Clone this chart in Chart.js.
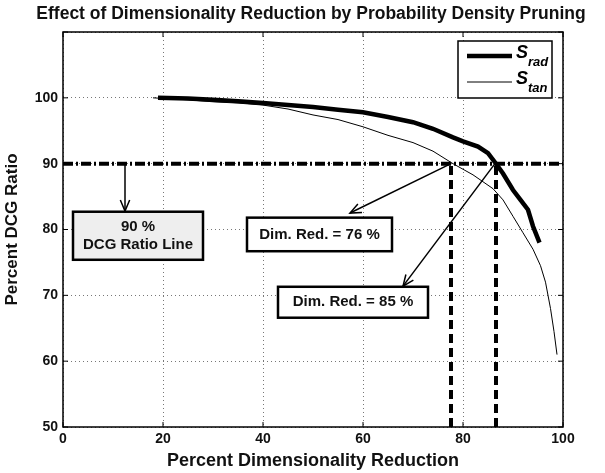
<!DOCTYPE html>
<html>
<head>
<meta charset="utf-8">
<script src="https://cdn.jsdelivr.net/npm/chart.js@4"></script>
<style>
  html, body { margin: 0; padding: 0; background: #fff; }
  #wrap { width: 605px; height: 473px; }
</style>
</head>
<body>
<div id="wrap"><canvas id="chartDCG"></canvas></div>
<script>
const FONT = '"Liberation Sans", Arial, Helvetica, sans-serif';

const radX = [19, 25, 30, 35, 40, 45, 50, 55, 60, 65, 70, 74, 78, 80, 83, 85, 86.5, 88, 90, 91.5, 93, 94, 95.3];
const radY = [100, 99.9, 99.7, 99.5, 99.2, 98.9, 98.6, 98.2, 97.8, 97.1, 96.3, 95.3, 94.0, 93.4, 92.6, 91.6, 90.1, 88.5, 86, 84.5, 83, 80.5, 78];

const tanX = [18, 25, 30, 35, 40, 45, 50, 55, 60, 65, 70, 74, 78, 82, 86, 88, 90, 92, 94, 95.5, 96.5, 97.5, 98.2, 98.8];
const tanY = [100, 99.7, 99.4, 99.2, 98.9, 98.3, 97.4, 96.7, 95.6, 94.3, 93.2, 91.9, 90, 88.3, 86.2, 84.5, 82, 79.5, 77, 74.5, 72, 68, 64.5, 61];

const ratioLine = 90;
const cut76 = 77.6;
const cut85 = 86.6;

const xTicks = [0, 20, 40, 60, 80, 100];
const yTicks = [50, 60, 70, 80, 90, 100, 110];

const toPoints = (xs, ys) => xs.map((x, i) => ({ x, y: ys[i] }));

// text boxes and arrows, placed in data coordinates
const notes = [
  { lines: ['90 %', 'DCG Ratio Line'], box: [2, 82.7, 28, 75.4], fill: '#eeeeee', arrow: [12.4, 90, 12.4, 82.8] },
  { lines: ['Dim. Red. = 76 %'], box: [36.8, 81.8, 65.8, 76.7], fill: '#ffffff', arrow: [cut76, 90, 57.4, 82.5] },
  { lines: ['Dim. Red. = 85 %'], box: [43, 71.3, 73, 66.6], fill: '#ffffff', arrow: [cut85 - 0.2, 90, 68, 71.4] },
];

function drawArrow(ctx, x1, y1, x2, y2) {
  const ang = Math.atan2(y2 - y1, x2 - x1);
  const len = 12;
  ctx.beginPath();
  ctx.moveTo(x1, y1);
  ctx.lineTo(x2, y2);
  ctx.stroke();
  ctx.beginPath();
  ctx.moveTo(x2 - len * Math.cos(ang - 0.4), y2 - len * Math.sin(ang - 0.4));
  ctx.lineTo(x2, y2);
  ctx.lineTo(x2 - len * Math.cos(ang + 0.4), y2 - len * Math.sin(ang + 0.4));
  ctx.stroke();
}

const decorations = {
  id: 'decorations',
  afterDraw(chart) {
    const { ctx, chartArea: a, scales: { x, y } } = chart;
    ctx.save();

    // frame around the plot
    ctx.strokeStyle = '#000';
    ctx.lineWidth = 1.5;
    ctx.strokeRect(a.left, a.top, a.right - a.left, a.bottom - a.top);

    // inner tick marks
    ctx.lineWidth = 1;
    ctx.beginPath();
    xTicks.forEach((t) => {
      const px = x.getPixelForValue(t);
      ctx.moveTo(px, a.bottom); ctx.lineTo(px, a.bottom - 5);
      ctx.moveTo(px, a.top); ctx.lineTo(px, a.top + 5);
    });
    yTicks.forEach((t) => {
      const py = y.getPixelForValue(t);
      ctx.moveTo(a.left, py); ctx.lineTo(a.left + 5, py);
      ctx.moveTo(a.right, py); ctx.lineTo(a.right - 5, py);
    });
    ctx.stroke();

    // title
    ctx.fillStyle = '#111';
    ctx.font = `bold 17.5px ${FONT}`;
    ctx.textAlign = 'center';
    ctx.textBaseline = 'middle';
    ctx.fillText('Effect of Dimensionality Reduction by Probability Density Pruning', 311, 14);

    // annotations
    notes.forEach((n) => {
      const [bx1, by1, bx2, by2] = n.box;
      const l = x.getPixelForValue(bx1), t = y.getPixelForValue(by1);
      const r = x.getPixelForValue(bx2), b = y.getPixelForValue(by2);
      ctx.fillStyle = n.fill;
      ctx.fillRect(l, t, r - l, b - t);
      ctx.lineWidth = 2.5;
      ctx.strokeStyle = '#000';
      ctx.strokeRect(l, t, r - l, b - t);
      ctx.fillStyle = '#111';
      ctx.font = `bold 15px ${FONT}`;
      ctx.textAlign = 'center';
      const cy = (t + b) / 2;
      const lh = 18;
      n.lines.forEach((s, i) => {
        ctx.fillText(s, (l + r) / 2, cy + (i - (n.lines.length - 1) / 2) * lh);
      });
      const [ax1, ay1, ax2, ay2] = n.arrow;
      ctx.lineWidth = 1.5;
      drawArrow(ctx, x.getPixelForValue(ax1), y.getPixelForValue(ay1), x.getPixelForValue(ax2), y.getPixelForValue(ay2));
    });

    // legend
    const lx = a.right - 105, ly = a.top + 9, lw = 94, lh = 57;
    ctx.fillStyle = '#fff';
    ctx.fillRect(lx, ly, lw, lh);
    ctx.lineWidth = 1.5;
    ctx.strokeRect(lx, ly, lw, lh);
    const rows = [{ w: 4.5, sub: 'rad', yy: ly + 15 }, { w: 1, sub: 'tan', yy: ly + 41 }];
    rows.forEach((row) => {
      ctx.lineWidth = row.w;
      ctx.beginPath();
      ctx.moveTo(lx + 9, row.yy);
      ctx.lineTo(lx + 54, row.yy);
      ctx.stroke();
      ctx.fillStyle = '#000';
      ctx.textAlign = 'left';
      ctx.font = `italic bold 18px ${FONT}`;
      ctx.fillText('S', lx + 58, row.yy - 3);
      ctx.font = `italic bold 13px ${FONT}`;
      ctx.fillText(row.sub, lx + 70, row.yy + 6);
    });

    ctx.restore();
  },
};

new Chart(document.getElementById('chartDCG').getContext('2d'), {
  type: 'line',
  data: {
    datasets: [
      {
        label: 'S_rad',
        data: toPoints(radX, radY),
        borderColor: '#000',
        borderWidth: 4.5,
        pointRadius: 0,
        tension: 0,
      },
      {
        label: 'S_tan',
        data: toPoints(tanX, tanY),
        borderColor: '#000',
        borderWidth: 1,
        pointRadius: 0,
        tension: 0,
      },
      {
        label: '90 % line',
        data: [{ x: 0, y: ratioLine }, { x: 100, y: ratioLine }],
        borderColor: '#000',
        borderWidth: 4,
        borderDash: [10, 3, 2, 3],
        pointRadius: 0,
      },
      {
        label: '76 %',
        data: [{ x: cut76, y: 50 }, { x: cut76, y: ratioLine }],
        borderColor: '#000',
        borderWidth: 4,
        borderDash: [9, 5],
        pointRadius: 0,
      },
      {
        label: '85 %',
        data: [{ x: cut85, y: 50 }, { x: cut85, y: ratioLine }],
        borderColor: '#000',
        borderWidth: 4,
        borderDash: [9, 5],
        pointRadius: 0,
      },
    ],
  },
  options: {
    responsive: true,
    maintainAspectRatio: false,
    animation: false,
    layout: { padding: { top: 32, right: 42, left: 0, bottom: 0 } },
    scales: {
      x: {
        type: 'linear',
        min: 0,
        max: 100,
        afterFit: (s) => { s.height = 46; },
        afterBuildTicks: (s) => { s.ticks = xTicks.map((v) => ({ value: v })); },
        grid: { color: '#777', drawTicks: false },
        border: { display: false, dash: [1, 3] },
        ticks: { color: '#111', padding: 4, font: { family: FONT, size: 14, weight: 'bold' } },
        title: { display: true, text: 'Percent Dimensionality Reduction', color: '#111', padding: { top: 0, bottom: 1 }, font: { family: FONT, size: 18, weight: 'bold' } },
      },
      y: {
        min: 50,
        max: 110,
        afterFit: (s) => { s.width = 63; },
        afterBuildTicks: (s) => { s.ticks = yTicks.map((v) => ({ value: v })); },
        grid: { color: '#777', drawTicks: false },
        border: { display: false, dash: [1, 3] },
        ticks: {
          color: '#111',
          padding: 5,
          font: { family: FONT, size: 14, weight: 'bold' },
          callback: (v) => (v === 110 ? '' : v),
        },
        title: { display: true, text: 'Percent DCG Ratio', color: '#111', padding: { top: 2, bottom: 2 }, font: { family: FONT, size: 17, weight: 'bold' } },
      },
    },
    plugins: {
      legend: { display: false },
      title: { display: false },
      tooltip: { enabled: false },
    },
  },
  plugins: [decorations],
});
</script>
</body>
</html>
